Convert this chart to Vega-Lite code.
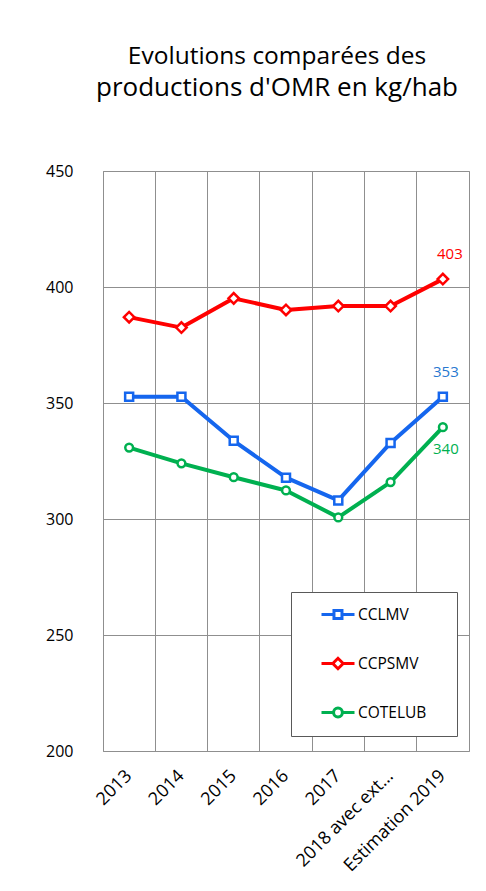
{
  "$schema": "https://vega.github.io/schema/vega-lite/v6.json",
  "autosize": "none",
  "width": 366,
  "height": 580,
  "padding": {"left": 103, "top": 171, "right": 17, "bottom": 140},
  "background": "white",
  "title": {
    "text": "Evolutions comparées des",
    "subtitle": "productions d'OMR en kg/hab",
    "font": "Open Sans",
    "fontSize": 24.5,
    "fontWeight": "normal",
    "color": "#000000",
    "subtitleFont": "Open Sans",
    "subtitleFontSize": 26,
    "subtitleColor": "#000000",
    "subtitlePadding": 6,
    "anchor": "middle",
    "frame": "group",
    "offset": 61,
    "dx": -9
  },
  "data": {
    "values": [
      {"annee": "2013", "serie": "CCLMV", "v": 352.7},
      {"annee": "2014", "serie": "CCLMV", "v": 352.7},
      {"annee": "2015", "serie": "CCLMV", "v": 333.7},
      {"annee": "2016", "serie": "CCLMV", "v": 317.8},
      {"annee": "2017", "serie": "CCLMV", "v": 308.0},
      {"annee": "2018 avec ext…", "serie": "CCLMV", "v": 332.8},
      {"annee": "Estimation 2019", "serie": "CCLMV", "v": 352.7},
      {"annee": "2013", "serie": "CCPSMV", "v": 387.0},
      {"annee": "2014", "serie": "CCPSMV", "v": 382.5},
      {"annee": "2015", "serie": "CCPSMV", "v": 395.1},
      {"annee": "2016", "serie": "CCPSMV", "v": 390.1},
      {"annee": "2017", "serie": "CCPSMV", "v": 391.8},
      {"annee": "2018 avec ext…", "serie": "CCPSMV", "v": 391.8},
      {"annee": "Estimation 2019", "serie": "CCPSMV", "v": 403.4},
      {"annee": "2013", "serie": "COTELUB", "v": 330.8},
      {"annee": "2014", "serie": "COTELUB", "v": 324.0},
      {"annee": "2015", "serie": "COTELUB", "v": 318.0},
      {"annee": "2016", "serie": "COTELUB", "v": 312.3},
      {"annee": "2017", "serie": "COTELUB", "v": 300.7},
      {"annee": "2018 avec ext…", "serie": "COTELUB", "v": 315.9},
      {"annee": "Estimation 2019", "serie": "COTELUB", "v": 339.6}
    ]
  },
  "encoding": {
    "x": {
      "field": "annee",
      "type": "ordinal",
      "sort": ["2013", "2014", "2015", "2016", "2017", "2018 avec ext…", "Estimation 2019"],
      "scale": {"type": "band", "paddingInner": 0, "paddingOuter": 0},
      "axis": {
        "title": null,
        "bandPosition": 0,
        "ticks": false,
        "tickSize": 0,
        "domain": false,
        "grid": true,
        "gridColor": "#8f8f8f",
        "gridWidth": 1,
        "labelAngle": -45,
        "labelAlign": "right",
        "labelBaseline": "middle",
        "labelPadding": 22,
        "labelFont": "Open Sans",
        "labelFontSize": 18,
        "labelColor": "#000000",
        "labelLimit": 250
      }
    },
    "y": {
      "field": "v",
      "type": "quantitative",
      "scale": {"domain": [200, 450], "nice": false, "zero": false},
      "axis": {
        "title": null,
        "values": [200, 250, 300, 350, 400, 450],
        "ticks": false,
        "tickSize": 0,
        "domain": false,
        "grid": true,
        "gridColor": "#8f8f8f",
        "gridWidth": 1,
        "labelPadding": 30,
        "labelFont": "Open Sans",
        "labelFontSize": 16,
        "labelColor": "#000000"
      }
    },
    "color": {
      "field": "serie",
      "type": "nominal",
      "scale": {"domain": ["CCLMV", "CCPSMV", "COTELUB"], "range": ["#1566EE", "#FF0000", "#00B050"]},
      "legend": {
        "title": ".",
        "titleOrient": "right",
        "titlePadding": 16,
        "titleFontSize": 6,
        "titleColor": "white",
        "titleOpacity": 0,
        "orient": "none",
        "legendX": 188,
        "legendY": 421,
        "padding": 13,
        "symbolSize": 256,
        "rowPadding": 27,
        "labelOffset": 35,
        "labelFont": "Open Sans",
        "labelFontSize": 15.5,
        "labelColor": "#000000",
        "fillColor": "white",
        "strokeColor": "#595959",
        "encoding": {
          "symbols": {
            "shape": {"value": {"expr": "datum.value === 'CCLMV' ? 'M1,0H2.56M3.56,0H5.125M2.56,-0.5H3.56V0.5H2.56Z' : datum.value === 'CCPSMV' ? 'M1,0H2.41M3.71,0H5.125M2.41,0L3.06,-0.65L3.71,0L3.06,0.65Z' : 'M1,0H2.51M3.61,0H5.125M2.51,0A0.55,0.55,0,1,0,3.61,0A0.55,0.55,0,1,0,2.51,0Z'"}},
            "fill": {"value": "white"},
            "fillOpacity": {"value": 1},
            "stroke": {"value": {"expr": "scale('color', datum.value)"}},
            "strokeWidth": {"value": 3},
            "opacity": {"value": 1}
          }
        }
      }
    }
  },
  "layer": [
    {
      "mark": {"type": "line", "strokeWidth": 4, "strokeJoin": "round"}
    },
    {
      "transform": [{"filter": "datum.serie === 'CCLMV'"}],
      "mark": {"type": "point", "shape": "square", "size": 64, "filled": false, "fill": "white", "fillOpacity": 1, "strokeWidth": 2.5, "opacity": 1}
    },
    {
      "transform": [{"filter": "datum.serie === 'CCPSMV'"}],
      "mark": {"type": "point", "shape": "diamond", "size": 110, "filled": false, "fill": "white", "fillOpacity": 1, "strokeWidth": 2.5, "opacity": 1}
    },
    {
      "transform": [{"filter": "datum.serie === 'COTELUB'"}],
      "mark": {"type": "point", "shape": "circle", "size": 60, "filled": false, "fill": "white", "fillOpacity": 1, "strokeWidth": 2.5, "opacity": 1}
    },
    {
      "transform": [{"filter": "datum.serie === 'CCPSMV' && datum.annee === 'Estimation 2019'"}],
      "mark": {"type": "text", "font": "Open Sans", "fontSize": 15, "dx": 7, "dy": -25},
      "encoding": {
        "text": {"field": "v", "type": "quantitative", "format": ".0f"},
        "color": {"value": "#FF0000"}
      }
    },
    {
      "transform": [{"filter": "datum.serie === 'CCLMV' && datum.annee === 'Estimation 2019'"}],
      "mark": {"type": "text", "font": "Open Sans", "fontSize": 15, "dx": 3, "dy": -25},
      "encoding": {
        "text": {"field": "v", "type": "quantitative", "format": ".0f"},
        "color": {"value": "#2878D0"}
      }
    },
    {
      "transform": [{"filter": "datum.serie === 'COTELUB' && datum.annee === 'Estimation 2019'"}],
      "mark": {"type": "text", "font": "Open Sans", "fontSize": 15, "dx": 3, "dy": 22},
      "encoding": {
        "text": {"field": "v", "type": "quantitative", "format": ".0f"},
        "color": {"value": "#00B050"}
      }
    }
  ],
  "config": {
    "font": "Open Sans",
    "view": {"stroke": "#8f8f8f", "strokeWidth": 1}
  }
}
